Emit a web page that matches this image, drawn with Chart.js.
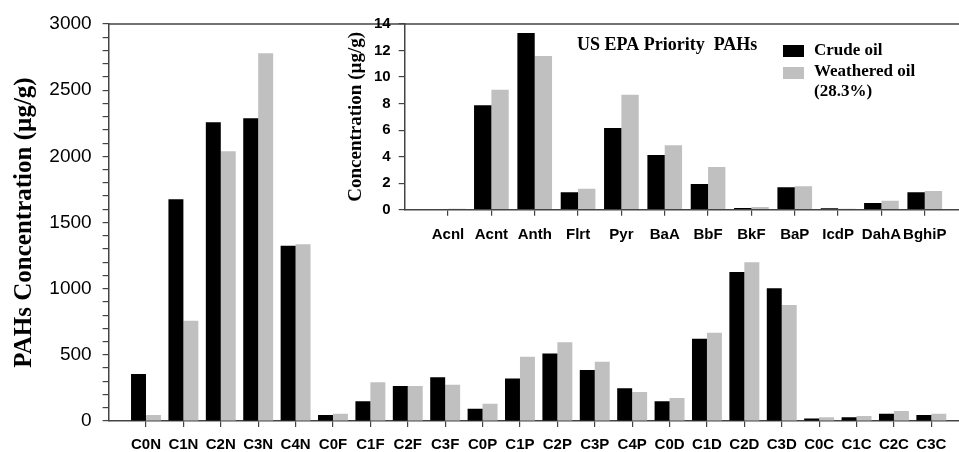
<!DOCTYPE html>
<html>
<head>
<meta charset="utf-8">
<title>PAHs Concentration</title>
<script src="https://cdn.jsdelivr.net/npm/chart.js@4.4.0/dist/chart.umd.min.js"></script>
<style>
  html, body { margin: 0; padding: 0; background: #fff; }
  #wrap { position: relative; width: 959px; height: 452px; overflow: hidden; }
  #mainBox { position: absolute; left: 0; top: 0; }
  #insetBox { position: absolute; left: 330px; top: 0; }
</style>
</head>
<body>
<div id="wrap">
  <div id="mainBox"><canvas id="mainChart" width="959" height="452"></canvas></div>
  <div id="insetBox"><canvas id="insetChart" width="629" height="250"></canvas></div>
</div>
<script>
// Alkylated PAHs (main chart)
const alkylLabels = ['C0N', 'C1N', 'C2N', 'C3N', 'C4N', 'C0F', 'C1F', 'C2F', 'C3F', 'C0P', 'C1P',
    'C2P', 'C3P', 'C4P', 'C0D', 'C1D', 'C2D', 'C3D', 'C0C', 'C1C', 'C2C', 'C3C'];
const alkylCrude = [355, 1675, 2257, 2288, 1325, 45, 150, 265, 330, 93, 322,
    511, 385, 247, 149, 622, 1126, 1003, 18, 28, 55, 45];
const alkylWeathered = [45, 758, 2038, 2779, 1335, 55, 293, 265, 274, 130, 485,
    595, 448, 219, 174, 667, 1199, 877, 28, 38, 76, 55];

// US EPA priority PAHs (inset)
const epaLabels = ['Acnl', 'Acnt', 'Anth', 'Flrt', 'Pyr', 'BaA', 'BbF', 'BkF', 'BaP', 'IcdP', 'DahA', 'BghiP'];
const epaCrude = [0, 7.87, 13.33, 1.31, 6.16, 4.12, 1.94, 0.13, 1.69, 0.1, 0.5, 1.31];
const epaWeathered = [0.07, 9.05, 11.59, 1.58, 8.67, 4.85, 3.22, 0.2, 1.76, 0.07, 0.68, 1.41];

const seriesNames = ['Crude oil', 'Weathered oil', '(28.3%)'];
const crudeColor = '#000000';
const weatheredColor = '#c0c0c0';
const axisColor = '#444444';
const sans = '"Liberation Sans", Arial, sans-serif';
const serif = '"Liberation Serif", "Times New Roman", serif';

function toPoints(values) {
    return values.map((v, i) => ({ x: i, y: v }));
}

function keepCategoryTicks(labels) {
    return function(scale) {
        scale.ticks = scale.ticks.filter(t => Number.isInteger(t.value) && t.value >= 0 && t.value < labels.length);
    };
}

// top frame line shared by both panels
const topLine = {
    id: 'topLine',
    afterDraw(chart) {
        const { ctx, chartArea } = chart;
        ctx.save();
        ctx.strokeStyle = axisColor;
        ctx.lineWidth = 1.5;
        ctx.beginPath();
        ctx.moveTo(chartArea.left, chartArea.top);
        ctx.lineTo(chart.width, chartArea.top);
        ctx.stroke();
        ctx.restore();
    }
};

// inset heading + legend
const insetText = {
    id: 'insetText',
    afterDraw(chart) {
        const ctx = chart.ctx;
        ctx.save();
        ctx.fillStyle = '#000';
        ctx.textBaseline = 'middle';
        ctx.textAlign = 'left';
        ctx.font = 'bold 18px ' + serif;
        ctx.fillText('US EPA Priority  PAHs', 247, 45);

        ctx.fillStyle = crudeColor;
        ctx.fillRect(453, 45, 21, 12);
        ctx.fillStyle = weatheredColor;
        ctx.fillRect(453, 67, 21, 12);

        ctx.fillStyle = '#000';
        ctx.font = 'bold 17px ' + serif;
        ctx.fillText(seriesNames[0], 484, 51);
        ctx.fillText(seriesNames[1], 484, 72);
        ctx.fillText(seriesNames[2], 484, 92);
        ctx.restore();
    }
};

function barDatasets(crude, weathered) {
    return [
        { label: seriesNames[0], data: toPoints(crude), backgroundColor: crudeColor,
          categoryPercentage: 0.8, barPercentage: 1.0 },
        { label: seriesNames[1], data: toPoints(weathered), backgroundColor: weatheredColor,
          categoryPercentage: 0.8, barPercentage: 1.0 }
    ];
}

new Chart(document.getElementById('mainChart'), {
    type: 'bar',
    data: { datasets: barDatasets(alkylCrude, alkylWeathered) },
    options: {
        responsive: false,
        animation: false,
        devicePixelRatio: 1,
        layout: { padding: { top: 24, right: 0, bottom: 0, left: 0 } },
        plugins: { legend: { display: false }, tooltip: { enabled: false } },
        scales: {
            x: {
                type: 'linear',
                min: -1,
                max: 21.74,
                offset: false,
                afterBuildTicks: keepCategoryTicks(alkylLabels),
                afterFit: s => { s.height = 31; },
                ticks: {
                    stepSize: 1, includeBounds: false, autoSkip: false, maxRotation: 0, padding: 9, color: '#000',
                    font: { family: sans, size: 15, weight: 'bold' },
                    callback: v => alkylLabels[v] ?? ''
                },
                grid: { offset: false, drawOnChartArea: false, tickLength: 6, color: axisColor, lineWidth: 1.2 },
                border: { color: axisColor, width: 1.5 }
            },
            y: {
                min: 0,
                max: 3000,
                afterFit: s => { s.width = 108.6; },
                ticks: {
                    stepSize: 100, autoSkip: false, maxTicksLimit: 100, padding: 11, color: '#000',
                    font: { family: sans, size: 19 },
                    callback: v => (v % 500 === 0 ? String(v) : '')
                },
                grid: { drawOnChartArea: false, tickLength: 6, color: axisColor, lineWidth: 1.2 },
                border: { color: axisColor, width: 1.5 },
                title: {
                    display: true, text: 'PAHs Concentration (µg/g)', color: '#000',
                    font: { family: serif, size: 25, weight: 'bold' },
                    padding: { top: 10, bottom: 0 }
                }
            }
        }
    },
    plugins: [topLine]
});

new Chart(document.getElementById('insetChart'), {
    type: 'bar',
    data: { datasets: barDatasets(epaCrude, epaWeathered) },
    options: {
        responsive: false,
        animation: false,
        devicePixelRatio: 1,
        layout: { padding: { top: 24, right: 0, bottom: 0, left: 0 } },
        plugins: { legend: { display: false }, tooltip: { enabled: false } },
        scales: {
            x: {
                type: 'linear',
                min: -1,
                max: 11.79,
                offset: false,
                afterBuildTicks: keepCategoryTicks(epaLabels),
                afterFit: s => { s.height = 40.3; },
                ticks: {
                    stepSize: 1, includeBounds: false, autoSkip: false, maxRotation: 0, padding: 10, color: '#000',
                    font: { family: sans, size: 15, weight: 'bold' },
                    callback: v => epaLabels[v] ?? ''
                },
                grid: { offset: false, drawOnChartArea: false, tickLength: 6, color: axisColor, lineWidth: 1.2 },
                border: { color: axisColor, width: 1.5 }
            },
            y: {
                min: 0,
                max: 14,
                afterFit: s => { s.width = 74.7; },
                ticks: {
                    stepSize: 2, autoSkip: false, padding: 8, color: '#000',
                    font: { family: sans, size: 15, weight: 'bold' }
                },
                grid: { drawOnChartArea: false, tickLength: 6, color: axisColor, lineWidth: 1.2 },
                border: { color: axisColor, width: 1.5 },
                title: {
                    display: true, text: 'Concentration (µg/g)', color: '#000',
                    font: { family: serif, size: 19, weight: 'bold' },
                    padding: { top: 15, bottom: 0 }
                }
            }
        }
    },
    plugins: [insetText]
});
</script>
</body>
</html>
